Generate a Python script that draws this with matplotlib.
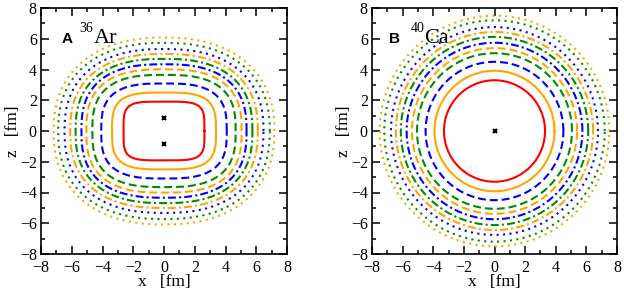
import numpy as np
import matplotlib
matplotlib.use("Agg")
import matplotlib.pyplot as plt
from matplotlib.ticker import MultipleLocator

# ---- data ----
# contour order: inner -> outer
line_colors = ["#ff0000", "#ffa500", "#0000ff", "#008b00", "#ffa500", "#0000ff",
               "#008b00", "#ffa500", "#0000ff", "#008b00", "#ffa500"]
line_styles = ["solid", "solid", "dashed", "dashed", "dashed", "dashdot",
               "dashdot", "dashdot", "dotted", "dotted", "dotted"]

# 36Ar: half-widths along x, along z, and squareness exponent
ar_a = [2.63, 3.38, 4.08, 4.66, 5.05, 5.37, 5.75, 6.10, 6.47, 6.88, 7.18]
ar_b = [1.91, 2.50, 3.09, 3.65, 4.01, 4.34, 4.69, 5.01, 5.33, 5.73, 6.08]
ar_n = [4.4, 3.4, 3.0, 2.8, 2.7, 2.6, 2.5, 2.45, 2.4, 2.35, 2.3]
ar_cx = [0.0, 0.0]
ar_cz = [0.87, -0.87]

# 40Ca: radii
ca_r = [3.30, 3.92, 4.50, 5.06, 5.39, 5.74, 6.12, 6.44, 6.76, 7.20, 7.50]
ca_cx = [0.0]
ca_cz = [0.0]

ticks = [-8, -6, -4, -2, 0, 2, 4, 6, 8]

dash_map = {
    "solid": "-",
    "dashed": (0, (3.8, 1.9)),
    "dashdot": (0, (3.8, 1.5, 1.0, 1.5)),
    "dotted": (0, (1.0, 2.1)),
}

plt.rcParams["font.family"] = ["Liberation Serif", "DejaVu Serif"]

fig = plt.figure(figsize=(6.24, 2.92), dpi=100)
axA = fig.add_axes([41 / 624, 38 / 292, 246 / 624, 246 / 292])
axB = fig.add_axes([372 / 624, 38 / 292, 245 / 624, 246 / 292])

t = np.linspace(0, 2 * np.pi, 721)


def superellipse(a, b, n):
    c, s = np.cos(t), np.sin(t)
    x = a * np.sign(c) * np.abs(c) ** (2.0 / n)
    z = b * np.sign(s) * np.abs(s) ** (2.0 / n)
    return x, z


for a, b, n, col, ls in zip(ar_a, ar_b, ar_n, line_colors, line_styles):
    x, z = superellipse(a, b, n)
    axA.plot(x, z, color=col, linestyle=dash_map[ls], lw=1.5)
axA.plot(ar_cx, ar_cz, linestyle="none", marker="x", color="black", ms=3.5, mew=1.5)

for r, col, ls in zip(ca_r, line_colors, line_styles):
    x, z = superellipse(r, r, 2.0)
    axB.plot(x, z, color=col, linestyle=dash_map[ls], lw=1.5)
axB.plot(ca_cx, ca_cz, linestyle="none", marker="x", color="black", ms=3.5, mew=1.5)

for ax in (axA, axB):
    ax.set_xlim(-8, 8)
    ax.set_ylim(-8, 8)
    ax.set_xticks(ticks)
    ax.set_yticks(ticks)
    ax.xaxis.set_minor_locator(MultipleLocator(1))
    ax.yaxis.set_minor_locator(MultipleLocator(1))
    ax.tick_params(which="both", direction="in", top=True, right=True,
                   labelsize=11.5, width=1.1)
    ax.tick_params(axis="x", pad=4)
    ax.tick_params(axis="y", pad=3)
    ax.tick_params(which="major", length=6)
    ax.tick_params(which="minor", length=3)
    for sp in ax.spines.values():
        sp.set_linewidth(1.2)
    ax.set_xlabel("x   [fm]", fontsize=12.5, labelpad=-1)
    ax.set_ylabel("z   [fm]", fontsize=12.5, labelpad=-1)

# panel labels
axA.text(-6.65, 5.72, "A", fontsize=11, fontweight="bold",
         family=["Liberation Sans", "DejaVu Sans"], va="baseline")
axA.text(-5.5, 6.45, "36", fontsize=10, va="baseline")
axA.text(-4.55, 5.72, "Ar", fontsize=16, va="baseline")

axB.text(-6.9, 5.75, "B", fontsize=11, fontweight="bold",
         family=["Liberation Sans", "DejaVu Sans"], va="baseline")
axB.text(-5.5, 6.45, "40", fontsize=10, va="baseline")
axB.text(-4.6, 5.75, "Ca", fontsize=16, va="baseline")

fig.savefig("out.png", dpi=100)
